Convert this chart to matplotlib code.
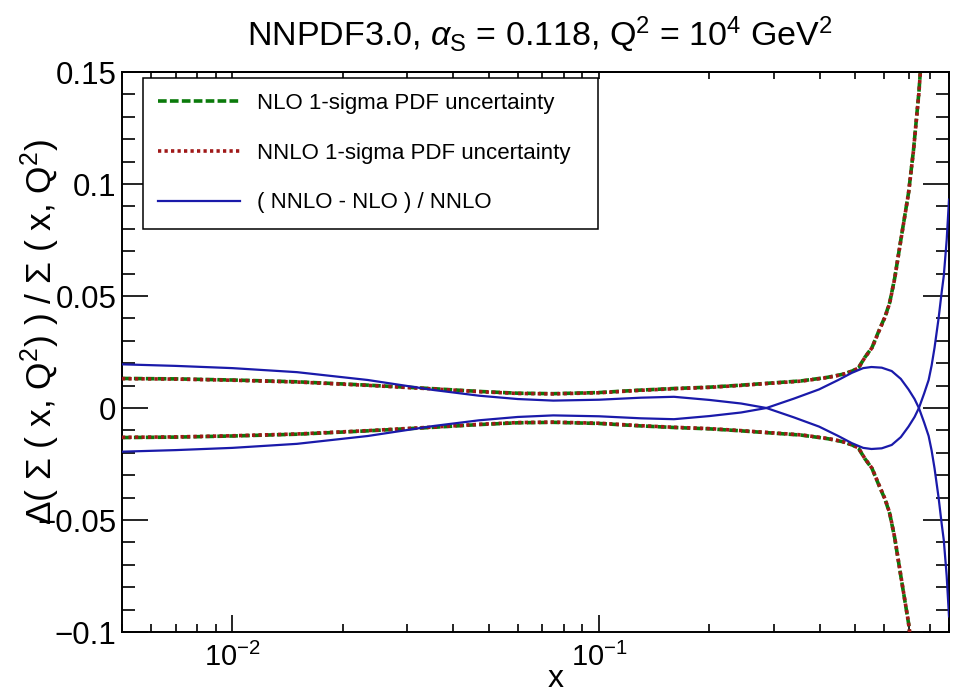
import matplotlib
matplotlib.use('Agg')
import matplotlib.pyplot as plt
from matplotlib.ticker import FixedLocator, FixedFormatter, MultipleLocator, LogLocator, NullFormatter

# 1-sigma relative PDF uncertainty
x_unc = [0.005, 0.007, 0.01, 0.015, 0.0234, 0.0355, 0.047, 0.06, 0.075, 0.1,
         0.13, 0.16, 0.2, 0.244, 0.286, 0.356, 0.42, 0.46, 0.49, 0.51,
         0.53, 0.555, 0.578, 0.603, 0.62, 0.64, 0.668, 0.698, 0.72, 0.745,
         0.77, 0.80]
nlo_sigma = [0.0132, 0.0130, 0.0125, 0.0117, 0.0102, 0.0086, 0.0074, 0.0066, 0.0064, 0.0069,
             0.0080, 0.0087, 0.0093, 0.0102, 0.0110, 0.0121, 0.0137, 0.0150, 0.0165, 0.0180,
             0.0225, 0.0270, 0.0340, 0.0410, 0.0470, 0.0580, 0.0770, 0.0960, 0.1150, 0.1410,
             0.1750, 0.2200]
nnlo_sigma = [0.0131, 0.0129, 0.0124, 0.0116, 0.0101, 0.0085, 0.0073, 0.0065, 0.0063, 0.0068,
              0.0079, 0.0086, 0.0092, 0.0101, 0.0109, 0.0120, 0.0136, 0.0149, 0.0164, 0.0179,
              0.0224, 0.0269, 0.0338, 0.0408, 0.0468, 0.0578, 0.0768, 0.0958, 0.1148, 0.1405,
              0.1745, 0.2190]

# (NNLO - NLO) / NNLO, drawn with both signs
x_ratio = [0.005, 0.007, 0.01, 0.015, 0.0234, 0.0355, 0.047, 0.06, 0.075, 0.1,
           0.13, 0.16, 0.2, 0.244, 0.286, 0.34, 0.398, 0.449, 0.489, 0.525,
           0.553, 0.59, 0.628, 0.665, 0.698, 0.725, 0.745, 0.77, 0.792, 0.807,
           0.822, 0.843, 0.86, 0.871, 0.887, 0.9]
ratio = [0.0195, 0.0188, 0.0178, 0.0160, 0.0125, 0.0080, 0.0055, 0.0040, 0.0033, 0.0037,
         0.0046, 0.0050, 0.0036, 0.0020, 0.0, -0.0042, -0.0083, -0.0125, -0.0157, -0.0178,
         -0.0183, -0.0180, -0.0165, -0.0130, -0.0083, -0.0040, 0.0, 0.0065, 0.0125, 0.0190,
         0.0270, 0.0400, 0.0520, 0.0590, 0.0750, 0.0930]

labels = ['NLO 1-sigma PDF uncertainty', 'NNLO 1-sigma PDF uncertainty', '( NNLO - NLO ) / NNLO']
y_ticks = [-0.1, -0.05, 0, 0.05, 0.1, 0.15]
y_ticklabels = ['\u22120.1', '\u22120.05', '0', '0.05', '0.1', '0.15']

plt.rcParams['mathtext.fontset'] = 'custom'
plt.rcParams['mathtext.rm'] = 'Liberation Sans'
plt.rcParams['mathtext.it'] = 'Liberation Sans:italic'
plt.rcParams['mathtext.bf'] = 'Liberation Sans:bold'
font = ['Liberation Sans', 'DejaVu Sans']

fig = plt.figure(figsize=(9.57, 6.88), dpi=100)
ax = fig.add_axes([122 / 957, 1 - 632 / 688, 827 / 957, 560 / 688])

green = '#0a7a0a'
red = '#a01818'
blue = '#1a1aaa'

neg = lambda v: [-a for a in v]

l_nlo, = ax.plot(x_unc, nlo_sigma, color=green, lw=2.6, ls=(0, (2.4, 0.9)), zorder=2)
ax.plot(x_unc, neg(nlo_sigma), color=green, lw=2.6, ls=(0, (2.4, 0.9)), zorder=2)
l_nnlo, = ax.plot(x_unc, nnlo_sigma, color=red, lw=2.6, ls=(0, (0.9, 0.9)), zorder=3)
ax.plot(x_unc, neg(nnlo_sigma), color=red, lw=2.6, ls=(0, (0.9, 0.9)), zorder=3)
l_rat, = ax.plot(x_ratio, ratio, color=blue, lw=1.6, zorder=4)
ax.plot(x_ratio, neg(ratio), color=blue, lw=1.6, zorder=4)

ax.set_xscale('log')
ax.set_xlim(0.005, 0.9)
ax.set_ylim(-0.1, 0.15)

for s in ax.spines.values():
    s.set_linewidth(1.4)

# y axis: ROOT style ticks inside on both sides
ax.yaxis.set_major_locator(FixedLocator(y_ticks))
ax.yaxis.set_major_formatter(FixedFormatter(y_ticklabels))
ax.yaxis.set_minor_locator(MultipleLocator(0.01))
ax.tick_params(axis='y', which='both', direction='in', left=True, right=True, width=1.2, pad=4,
               labelsize=22.5)
ax.tick_params(axis='y', which='major', length=18.5)
ax.tick_params(axis='y', which='minor', length=9.5)

# x axis
ax.xaxis.set_major_locator(FixedLocator([0.01, 0.1]))
ax.xaxis.set_major_formatter(FixedFormatter(['$10^{-2}$', '$10^{-1}$']))
ax.xaxis.set_minor_locator(LogLocator(base=10, subs=range(2, 10)))
ax.xaxis.set_minor_formatter(NullFormatter())
ax.tick_params(axis='x', which='both', direction='in', top=False, width=1.2, pad=8, labelsize=21)
ax.tick_params(axis='x', which='major', length=12.5)
ax.tick_params(axis='x', which='minor', length=6)
for t in ax.get_xticklabels() + ax.get_yticklabels():
    t.set_family(font)

top = ax.secondary_xaxis('top', functions=(lambda v: v, lambda v: v))
top.xaxis.set_major_locator(FixedLocator([0.01, 0.1]))
top.xaxis.set_minor_locator(LogLocator(base=10, subs=range(2, 10)))
top.tick_params(axis='x', which='both', direction='in', length=5, width=1.2, labeltop=False)
top.spines['top'].set_linewidth(1.4)

leg = ax.legend([l_nlo, l_nnlo, l_rat], labels, loc='upper left',
                bbox_to_anchor=(0.025, 0.99, 0.551, 0.0), mode='expand',
                prop={'family': font, 'size': 16}, frameon=True, fancybox=False,
                edgecolor='black', framealpha=1, handlelength=3.7, handletextpad=0.75,
                labelspacing=1.3, borderpad=0.68, borderaxespad=0.0)
leg.get_frame().set_linewidth(1.1)

fig.text(540 / 957, 1 - 46 / 688, r'NNPDF3.0, $\alpha_{\rm S}$ = 0.118, Q$^{2}$ = 10$^{4}$ GeV$^{2}$',
         ha='center', va='baseline', fontsize=24.5, family=font)
fig.text(40 / 957, 1 - 332 / 688, '\u0394( \u03a3 ( x, Q$^{2}$) ) / \u03a3 ( x, Q$^{2}$)',
         rotation=90, ha='center', va='center', fontsize=25.5, family=font)
fig.text(556 / 957, 1 - 687 / 688, 'x', ha='center', va='baseline', fontsize=23, family=font)

fig.savefig('out.png', dpi=100)
